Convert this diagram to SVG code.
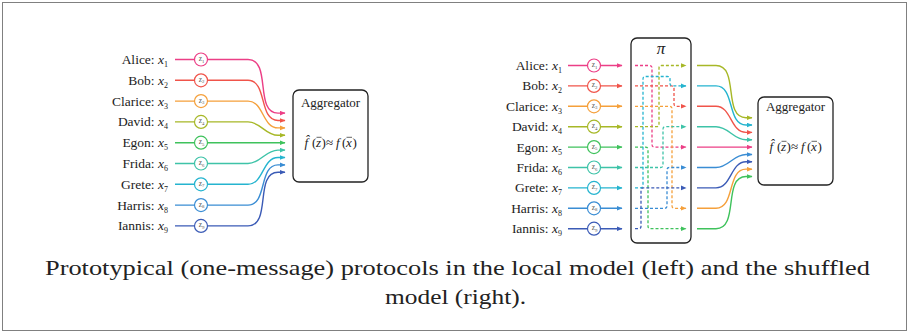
<svg xmlns="http://www.w3.org/2000/svg" width="909" height="334" viewBox="0 0 909 334" font-family="'Liberation Serif', 'Times New Roman', serif">
  <style>
    text { font-family: "Liberation Serif", "Times New Roman", serif; fill: #222; }
    .name { font-size: 13.5px; text-anchor: end; }
    .sub { font-size: 8px; }
    .zl { font-size: 7.5px; fill: #555; }
    .zs { font-size: 4.8px; fill: #555; }
    .it { font-style: italic; }
    .agg { font-size: 13px; text-anchor: middle; }
    .fml { font-size: 13px; }
    .bar { fill: none; stroke: #222; stroke-width: 0.7; }
    .cap { font-size: 22px; text-anchor: middle; }
    .box { fill: #fff; stroke: #222; stroke-width: 1.3; }
    .line { fill: none; stroke-width: 1.4; }
    .dash { fill: none; stroke-width: 1.3; stroke-dasharray: 3 2; }
    .node { fill: #fff; stroke-width: 1.2; }
    .c1 { stroke: #ec3f86; } .c2 { stroke: #f0544a; } .c3 { stroke: #f5a03b; }
    .c4 { stroke: #a7b827; } .c5 { stroke: #3fc25c; } .c6 { stroke: #3ec3a8; }
    .c7 { stroke: #25b4cf; } .c8 { stroke: #3a8dd4; } .c9 { stroke: #3b5bb6; }
  </style>
  <defs>
    <marker id="a1" markerUnits="userSpaceOnUse" markerWidth="7" markerHeight="6" refX="5.5" refY="2.5" orient="auto"><path d="M0,0 L6,2.5 L0,5 Z" fill="#ec3f86"/></marker>
    <marker id="a2" markerUnits="userSpaceOnUse" markerWidth="7" markerHeight="6" refX="5.5" refY="2.5" orient="auto"><path d="M0,0 L6,2.5 L0,5 Z" fill="#f0544a"/></marker>
    <marker id="a3" markerUnits="userSpaceOnUse" markerWidth="7" markerHeight="6" refX="5.5" refY="2.5" orient="auto"><path d="M0,0 L6,2.5 L0,5 Z" fill="#f5a03b"/></marker>
    <marker id="a4" markerUnits="userSpaceOnUse" markerWidth="7" markerHeight="6" refX="5.5" refY="2.5" orient="auto"><path d="M0,0 L6,2.5 L0,5 Z" fill="#a7b827"/></marker>
    <marker id="a5" markerUnits="userSpaceOnUse" markerWidth="7" markerHeight="6" refX="5.5" refY="2.5" orient="auto"><path d="M0,0 L6,2.5 L0,5 Z" fill="#3fc25c"/></marker>
    <marker id="a6" markerUnits="userSpaceOnUse" markerWidth="7" markerHeight="6" refX="5.5" refY="2.5" orient="auto"><path d="M0,0 L6,2.5 L0,5 Z" fill="#3ec3a8"/></marker>
    <marker id="a7" markerUnits="userSpaceOnUse" markerWidth="7" markerHeight="6" refX="5.5" refY="2.5" orient="auto"><path d="M0,0 L6,2.5 L0,5 Z" fill="#25b4cf"/></marker>
    <marker id="a8" markerUnits="userSpaceOnUse" markerWidth="7" markerHeight="6" refX="5.5" refY="2.5" orient="auto"><path d="M0,0 L6,2.5 L0,5 Z" fill="#3a8dd4"/></marker>
    <marker id="a9" markerUnits="userSpaceOnUse" markerWidth="7" markerHeight="6" refX="5.5" refY="2.5" orient="auto"><path d="M0,0 L6,2.5 L0,5 Z" fill="#3b5bb6"/></marker>
  </defs>

  <!-- outer frame -->
  <rect x="2.5" y="2.5" width="904" height="328" fill="#fff" stroke="#808080" stroke-width="1"/>

  <!-- connectors -->
  <g id="connectors">
    <!-- local model: users straight to the aggregator -->
    <path class="line c1" marker-end="url(#a1)" d="M175,59.5 H248 C272,59.5 254,113.1 278,113.1 H285"/>
    <path class="line c2" marker-end="url(#a2)" d="M175,80.3 H248 C267.6,80.3 258.4,120.5 278,120.5 H285"/>
    <path class="line c3" marker-end="url(#a3)" d="M175,101.1 H248 C263.7,101.1 262.3,127.9 278,127.9 H285"/>
    <path class="line c4" marker-end="url(#a4)" d="M175,121.9 H248 C260.9,121.9 265.1,135.3 278,135.3 H285"/>
    <path class="line c5" marker-end="url(#a5)" d="M175,142.7 H285"/>
    <path class="line c6" marker-end="url(#a6)" d="M175,163.5 H248 C260.9,163.5 265.1,150.1 278,150.1 H285"/>
    <path class="line c7" marker-end="url(#a7)" d="M175,184.3 H248 C263.7,184.3 262.3,157.5 278,157.5 H285"/>
    <path class="line c8" marker-end="url(#a8)" d="M175,205.1 H248 C267.6,205.1 258.4,164.9 278,164.9 H285"/>
    <path class="line c9" marker-end="url(#a9)" d="M175,225.9 H248 C272,225.9 254,172.3 278,172.3 H285"/>

    <!-- shuffled model: users into the shuffler -->
    <path class="line c1" marker-end="url(#a1)" d="M568,65.5 H622"/>
    <path class="line c2" marker-end="url(#a2)" d="M568,85.9 H622"/>
    <path class="line c3" marker-end="url(#a3)" d="M568,106.3 H622"/>
    <path class="line c4" marker-end="url(#a4)" d="M568,126.7 H622"/>
    <path class="line c5" marker-end="url(#a5)" d="M568,147.1 H622"/>
    <path class="line c6" marker-end="url(#a6)" d="M568,167.5 H622"/>
    <path class="line c7" marker-end="url(#a7)" d="M568,187.9 H622"/>
    <path class="line c8" marker-end="url(#a8)" d="M568,208.3 H622"/>
    <path class="line c9" marker-end="url(#a9)" d="M568,228.7 H622"/>

    <!-- permutation inside the shuffler -->
    <path class="dash c1" marker-end="url(#a1)" d="M635,65.5 H649.5 Q652,65.5 652,68 V144.6 Q652,147.1 654.5,147.1 H686"/>
    <path class="dash c2" marker-end="url(#a2)" d="M635,85.9 H671.5 Q674,85.9 674,88.4 V103.8 Q674,106.3 676.5,106.3 H686"/>
    <path class="dash c3" marker-end="url(#a3)" d="M635,106.3 H669.5 Q672,106.3 672,108.8 V205.8 Q672,208.3 674.5,208.3 H686"/>
    <path class="dash c4" marker-end="url(#a4)" d="M635,126.7 H656.5 Q659,126.7 659,124.2 V68 Q659,65.5 661.5,65.5 H686"/>
    <path class="dash c5" marker-end="url(#a5)" d="M635,147.1 H645.5 Q648,147.1 648,149.6 V226.2 Q648,228.7 650.5,228.7 H686"/>
    <path class="dash c6" marker-end="url(#a6)" d="M635,167.5 H660.5 Q663,167.5 663,165 V129.2 Q663,126.7 665.5,126.7 H686"/>
    <path class="dash c7" marker-end="url(#a7)" d="M635,187.9 H640.5 Q643,187.9 643,185.4 V79 Q643,76.5 645.5,76.5 H667.5 Q670,76.5 670,79 V83.4 Q670,85.9 672.5,85.9 H686"/>
    <path class="dash c8" marker-end="url(#a8)" d="M635,208.3 H664.5 Q667,208.3 667,205.8 V170 Q667,167.5 669.5,167.5 H686"/>
    <path class="dash c9" marker-end="url(#a9)" d="M635,228.7 H638.5 Q641,228.7 641,226.2 V190.4 Q641,187.9 643.5,187.9 H686"/>

    <!-- shuffler output to the aggregator -->
    <path class="line c4" marker-end="url(#a4)" d="M697,65.5 H716 C739.6,65.5 722.4,117.7 746,117.7 H752"/>
    <path class="line c7" marker-end="url(#a7)" d="M697,85.9 H716 C735.3,85.9 726.7,125.05 746,125.05 H752"/>
    <path class="line c2" marker-end="url(#a2)" d="M697,106.3 H716 C731.6,106.3 730.4,132.4 746,132.4 H752"/>
    <path class="line c6" marker-end="url(#a6)" d="M697,126.7 H716 C728.8,126.7 733.2,139.75 746,139.75 H752"/>
    <path class="line c1" marker-end="url(#a1)" d="M697,147.1 H752"/>
    <path class="line c8" marker-end="url(#a8)" d="M697,167.5 H716 C728.8,167.5 733.2,154.45 746,154.45 H752"/>
    <path class="line c9" marker-end="url(#a9)" d="M697,187.9 H716 C731.6,187.9 730.4,161.8 746,161.8 H752"/>
    <path class="line c3" marker-end="url(#a3)" d="M697,208.3 H716 C735.3,208.3 726.7,169.15 746,169.15 H752"/>
    <path class="line c5" marker-end="url(#a5)" d="M697,228.7 H716 C739.6,228.7 722.4,176.5 746,176.5 H752"/>
  </g>

  <!-- local model users -->
  <g id="alice-local"><text class="name" x="168" y="64">Alice: <tspan class="it">x</tspan><tspan class="sub" dy="3">1</tspan></text><circle class="node c1" cx="201" cy="59.5" r="6.5"/><text class="zl" x="198.7" y="61">z<tspan class="zs" dy="1.5">1</tspan></text></g>
  <g id="bob-local"><text class="name" x="168" y="84.8">Bob: <tspan class="it">x</tspan><tspan class="sub" dy="3">2</tspan></text><circle class="node c2" cx="201" cy="80.3" r="6.5"/><text class="zl" x="198.7" y="81.8">z<tspan class="zs" dy="1.5">2</tspan></text></g>
  <g id="clarice-local"><text class="name" x="168" y="105.6">Clarice: <tspan class="it">x</tspan><tspan class="sub" dy="3">3</tspan></text><circle class="node c3" cx="201" cy="101.1" r="6.5"/><text class="zl" x="198.7" y="102.6">z<tspan class="zs" dy="1.5">3</tspan></text></g>
  <g id="david-local"><text class="name" x="168" y="126.4">David: <tspan class="it">x</tspan><tspan class="sub" dy="3">4</tspan></text><circle class="node c4" cx="201" cy="121.9" r="6.5"/><text class="zl" x="198.7" y="123.4">z<tspan class="zs" dy="1.5">4</tspan></text></g>
  <g id="egon-local"><text class="name" x="168" y="147.2">Egon: <tspan class="it">x</tspan><tspan class="sub" dy="3">5</tspan></text><circle class="node c5" cx="201" cy="142.7" r="6.5"/><text class="zl" x="198.7" y="144.2">z<tspan class="zs" dy="1.5">5</tspan></text></g>
  <g id="frida-local"><text class="name" x="168" y="168">Frida: <tspan class="it">x</tspan><tspan class="sub" dy="3">6</tspan></text><circle class="node c6" cx="201" cy="163.5" r="6.5"/><text class="zl" x="198.7" y="165">z<tspan class="zs" dy="1.5">6</tspan></text></g>
  <g id="grete-local"><text class="name" x="168" y="188.8">Grete: <tspan class="it">x</tspan><tspan class="sub" dy="3">7</tspan></text><circle class="node c7" cx="201" cy="184.3" r="6.5"/><text class="zl" x="198.7" y="185.8">z<tspan class="zs" dy="1.5">7</tspan></text></g>
  <g id="harris-local"><text class="name" x="168" y="209.6">Harris: <tspan class="it">x</tspan><tspan class="sub" dy="3">8</tspan></text><circle class="node c8" cx="201" cy="205.1" r="6.5"/><text class="zl" x="198.7" y="206.6">z<tspan class="zs" dy="1.5">8</tspan></text></g>
  <g id="iannis-local"><text class="name" x="168" y="230.4">Iannis: <tspan class="it">x</tspan><tspan class="sub" dy="3">9</tspan></text><circle class="node c9" cx="201" cy="225.9" r="6.5"/><text class="zl" x="198.7" y="227.4">z<tspan class="zs" dy="1.5">9</tspan></text></g>

  <g id="aggregator-local">
    <rect class="box" x="293" y="90" width="75" height="92" rx="6"/>
    <text class="agg" x="330.5" y="107">Aggregator</text>
    <text class="fml" y="147"><tspan class="it" x="304.5">f̂</tspan><tspan x="312">(</tspan><tspan class="it" x="316">z</tspan><tspan x="321.5">)</tspan><tspan x="326">≈</tspan><tspan class="it" x="336">f</tspan><tspan x="342">(</tspan><tspan class="it" x="346">x</tspan><tspan x="352.5">)</tspan></text>
    <path class="bar" d="M316.5,137.3 H321.5 M346.5,137.3 H352"/>
  </g>

  <!-- shuffled model users -->
  <g id="alice-shuffled"><text class="name" x="562" y="70">Alice: <tspan class="it">x</tspan><tspan class="sub" dy="3">1</tspan></text><circle class="node c1" cx="594" cy="65.5" r="6.5"/><text class="zl" x="591.7" y="67">z<tspan class="zs" dy="1.5">1</tspan></text></g>
  <g id="bob-shuffled"><text class="name" x="562" y="90.4">Bob: <tspan class="it">x</tspan><tspan class="sub" dy="3">2</tspan></text><circle class="node c2" cx="594" cy="85.9" r="6.5"/><text class="zl" x="591.7" y="87.4">z<tspan class="zs" dy="1.5">2</tspan></text></g>
  <g id="clarice-shuffled"><text class="name" x="562" y="110.8">Clarice: <tspan class="it">x</tspan><tspan class="sub" dy="3">3</tspan></text><circle class="node c3" cx="594" cy="106.3" r="6.5"/><text class="zl" x="591.7" y="107.8">z<tspan class="zs" dy="1.5">3</tspan></text></g>
  <g id="david-shuffled"><text class="name" x="562" y="131.2">David: <tspan class="it">x</tspan><tspan class="sub" dy="3">4</tspan></text><circle class="node c4" cx="594" cy="126.7" r="6.5"/><text class="zl" x="591.7" y="128.2">z<tspan class="zs" dy="1.5">4</tspan></text></g>
  <g id="egon-shuffled"><text class="name" x="562" y="151.6">Egon: <tspan class="it">x</tspan><tspan class="sub" dy="3">5</tspan></text><circle class="node c5" cx="594" cy="147.1" r="6.5"/><text class="zl" x="591.7" y="148.6">z<tspan class="zs" dy="1.5">5</tspan></text></g>
  <g id="frida-shuffled"><text class="name" x="562" y="172">Frida: <tspan class="it">x</tspan><tspan class="sub" dy="3">6</tspan></text><circle class="node c6" cx="594" cy="167.5" r="6.5"/><text class="zl" x="591.7" y="169">z<tspan class="zs" dy="1.5">6</tspan></text></g>
  <g id="grete-shuffled"><text class="name" x="562" y="192.4">Grete: <tspan class="it">x</tspan><tspan class="sub" dy="3">7</tspan></text><circle class="node c7" cx="594" cy="187.9" r="6.5"/><text class="zl" x="591.7" y="189.4">z<tspan class="zs" dy="1.5">7</tspan></text></g>
  <g id="harris-shuffled"><text class="name" x="562" y="212.8">Harris: <tspan class="it">x</tspan><tspan class="sub" dy="3">8</tspan></text><circle class="node c8" cx="594" cy="208.3" r="6.5"/><text class="zl" x="591.7" y="209.8">z<tspan class="zs" dy="1.5">8</tspan></text></g>
  <g id="iannis-shuffled"><text class="name" x="562" y="233.2">Iannis: <tspan class="it">x</tspan><tspan class="sub" dy="3">9</tspan></text><circle class="node c9" cx="594" cy="228.7" r="6.5"/><text class="zl" x="591.7" y="230.2">z<tspan class="zs" dy="1.5">9</tspan></text></g>

  <!-- shuffler box -->
  <g id="shuffler">
    <rect x="631" y="38" width="60" height="205" rx="6" fill="none" stroke="#222" stroke-width="1.3"/>
    <text x="661" y="54" font-size="17" font-style="italic" text-anchor="middle">π</text>
  </g>

  <g id="aggregator-shuffled">
    <rect class="box" x="758" y="97" width="75" height="88" rx="6"/>
    <text class="agg" x="795.5" y="111">Aggregator</text>
    <text class="fml" y="151"><tspan class="it" x="769.5">f̂</tspan><tspan x="777">(</tspan><tspan class="it" x="781">z</tspan><tspan x="786.5">)</tspan><tspan x="791">≈</tspan><tspan class="it" x="801">f</tspan><tspan x="807">(</tspan><tspan class="it" x="811">x</tspan><tspan x="817.5">)</tspan></text>
    <path class="bar" d="M781.5,141.3 H786.5 M811.5,141.3 H817"/>
  </g>

  <!-- caption -->
  <text class="cap" x="457.5" y="275" textLength="825" lengthAdjust="spacingAndGlyphs">Prototypical (one-message) protocols in the local model (left) and the shuffled</text>
  <text class="cap" x="455.5" y="304" textLength="141" lengthAdjust="spacingAndGlyphs">model (right).</text>
</svg>
